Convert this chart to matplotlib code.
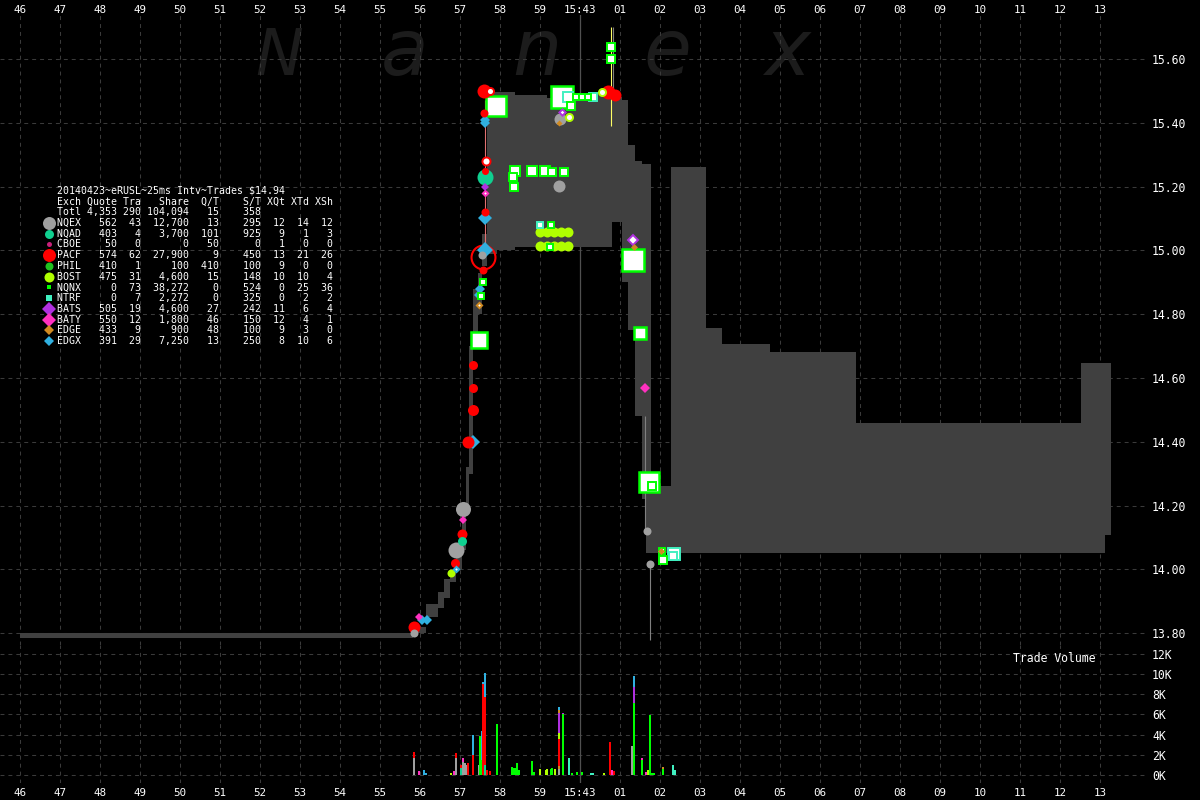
import matplotlib.pyplot as plt

plt.rcParams['font.family'] = ['DejaVu Sans Mono']

# time axis: seconds relative to 15:43:00
sec_ticks = [-14, -13, -12, -11, -10, -9, -8, -7, -6, -5, -4, -3, -2, -1,
             0, 1, 2, 3, 4, 5, 6, 7, 8, 9, 10, 11, 12, 13]
sec_labels = ['46', '47', '48', '49', '50', '51', '52', '53', '54', '55', '56', '57', '58', '59',
              '15:43', '01', '02', '03', '04', '05', '06', '07', '08', '09', '10', '11', '12', '13']
price_ticks = [13.80, 14.00, 14.20, 14.40, 14.60, 14.80, 15.00, 15.20, 15.40, 15.60]
vol_ticks = [0, 2000, 4000, 6000, 8000, 10000, 12000]
vol_labels = ['0K', '2K', '4K', '6K', '8K', '10K', '12K']

# exchanges
exch = ['NQEX', 'NQAD', 'CBOE', 'PACF', 'PHIL', 'BOST', 'NQNX', 'NTRF', 'BATS', 'BATY', 'EDGE', 'EDGX']
exch_color = {'NQEX': '#a0a0a0', 'NQAD': '#10d090', 'CBOE': '#c8207a', 'PACF': '#ff0000',
              'PHIL': '#20c020', 'BOST': '#b0ff00', 'NQNX': '#00ff00', 'NTRF': '#40f0c0',
              'BATS': '#b030e0', 'BATY': '#ff30c0', 'EDGE': '#d08a20', 'EDGX': '#30b0e0'}
exch_shape = {'NQEX': 'o', 'NQAD': 'o', 'CBOE': 'o', 'PACF': 'o', 'PHIL': 'o', 'BOST': 'o',
              'NQNX': 's', 'NTRF': 's', 'BATS': 'D', 'BATY': 'D', 'EDGE': 'D', 'EDGX': 'D'}

# summary table
tbl_quote = ['562', '403', '50', '574', '410', '475', '0', '0', '505', '550', '433', '391']
tbl_tra = ['43', '4', '0', '62', '1', '31', '73', '7', '19', '12', '9', '29']
tbl_share = ['12,700', '3,700', '0', '27,900', '100', '4,600', '38,272', '2,272', '4,600', '1,800', '900', '7,250']
tbl_qt = ['13', '101', '50', '9', '410', '15', '0', '0', '27', '46', '48', '13']
tbl_st = ['295', '925', '0', '450', '100', '148', '524', '325', '242', '150', '100', '250']
tbl_xqt = ['12', '9', '1', '13', '9', '10', '0', '0', '11', '12', '9', '8']
tbl_xtd = ['14', '1', '0', '21', '0', '10', '25', '2', '6', '4', '3', '10']
tbl_xsh = ['12', '3', '0', '26', '0', '4', '36', '2', '4', '1', '0', '6']
tbl_total = ['Totl', '4,353', '290', '104,094', '15', '358', '', '', '']

# NBBO (bid / ask, step post)
nbbo_t = [-14.0, -4.175, -3.85, -3.55, -3.4, -3.25, -3.1, -2.95, -2.85, -2.775, -2.675, -2.55,
          -2.45, -2.325, -2.075, -1.625, -0.825, -0.325, 0.8, 1.05, 1.2, 1.375, 1.55, 1.65,
          1.775, 2.275, 3.15, 3.55, 4.75, 6.9, 12.525, 13.125, 13.275]
nbbo_bid = [13.785, 13.80, 13.85, 13.88, 13.91, 13.96, 14.00, 14.06, 14.20, 14.30, 14.72, 14.80,
            14.95, 14.99, 15.00, 15.01, 15.01, 15.01, 15.09, 14.90, 14.75, 14.48, 14.22, 14.05,
            14.05, 14.05, 14.05, 14.05, 14.05, 14.05, 14.05, 14.108, 14.108]
nbbo_ask = [13.80, 13.82, 13.89, 13.93, 13.97, 14.00, 14.06, 14.20, 14.32, 14.70, 14.88, 14.93,
            15.05, 15.497, 15.497, 15.487, 15.478, 15.49, 15.48, 15.47, 15.33, 15.28, 15.27, 15.27,
            14.26, 15.26, 14.757, 14.707, 14.68, 14.459, 14.647, 14.647, 14.647]

# trades: exchange, time, price, marker px, look
trade_ex = ['NQEX', 'PACF', 'BATY', 'EDGX', 'EDGX', 'BOST', 'EDGX', 'PACF', 'NQEX', 'NQAD',
            'PACF', 'BATY', 'NQEX', 'PACF', 'EDGX', 'PACF', 'PACF', 'PACF', 'NQNX', 'EDGE',
            'NQNX', 'EDGX', 'EDGX', 'NQNX', 'PACF', 'PACF', 'NQEX', 'EDGX', 'EDGX', 'PACF',
            'BATY', 'BATS', 'NQAD', 'PACF', 'PACF', 'EDGX', 'EDGX', 'PACF', 'PACF', 'PACF',
            'NQNX',
            'NQNX', 'NQNX', 'NQNX', 'NQNX', 'NQNX', 'NQNX', 'NQNX', 'NQEX',
            'BOST', 'BOST', 'BOST', 'BOST', 'BOST', 'BOST', 'BOST', 'BOST', 'BOST', 'BOST',
            'NTRF', 'NQNX', 'NQNX', 'NQNX', 'NTRF', 'NQNX', 'NQNX', 'NQNX', 'NTRF', 'NQNX',
            'BATS', 'NQEX', 'EDGE', 'BOST', 'BOST', 'PACF', 'PACF', 'NQNX', 'NQNX',
            'BATS', 'EDGE', 'NQNX', 'NQNX', 'BATY', 'NQNX', 'NQNX', 'NQEX', 'NQEX', 'NQNX',
            'EDGE', 'NQNX', 'NTRF', 'NTRF']
trade_t = [-4.15, -4.15, -4.025, -3.95, -3.825, -3.225, -3.1, -3.125, -3.1, -2.95,
           -2.95, -2.925, -2.925, -2.8, -2.675, -2.675, -2.675, -2.675, -2.525, -2.525,
           -2.475, -2.525, -2.5, -2.425, -2.425, -2.425, -2.45, -2.375, -2.375, -2.375,
           -2.375, -2.375, -2.375, -2.375, -2.35, -2.375, -2.375, -2.4, -2.4, -2.25,
           -2.1,
           -1.675, -1.65, -1.625, -1.2, -0.875, -0.7, -0.4, -0.525,
           -1.0, -0.825, -0.65, -0.475, -0.3, -1.0, -0.825, -0.65, -0.475, -0.3,
           -1.0, -0.725, -0.75, -0.45, -0.3, -0.1, 0.05, 0.2, 0.325, -0.225,
           -0.45, -0.5, -0.525, -0.275, 0.55, 0.7, 0.875, 0.775, 0.775,
           1.325, 1.35, 1.325, 1.5, 1.625, 1.725, 1.8, 1.675, 1.75, 2.05,
           2.03, 2.075, 2.35, 2.325]
trade_px = [13.80, 13.82, 13.85, 13.84, 13.84, 13.99, 14.00, 14.02, 14.06, 14.09,
            14.11, 14.155, 14.19, 14.40, 14.40, 14.50, 14.57, 14.64, 14.72, 14.83,
            14.857, 14.86, 14.88, 14.90, 14.94, 14.98, 14.986, 15.00, 15.10, 15.12,
            15.18, 15.20, 15.23, 15.25, 15.28, 15.40, 15.41, 15.43, 15.50, 15.50,
            15.453,
            15.23, 15.20, 15.25, 15.25, 15.25, 15.246, 15.246, 15.202,
            15.058, 15.058, 15.058, 15.058, 15.058, 15.014, 15.014, 15.014, 15.014, 15.014,
            15.08, 15.08, 15.01, 15.481, 15.48, 15.48, 15.48, 15.48, 15.48, 15.453,
            15.434, 15.412, 15.40, 15.418, 15.497, 15.497, 15.487, 15.638, 15.60,
            15.033, 15.011, 14.970, 14.741, 14.569, 14.274, 14.261, 14.120, 14.017, 14.058,
            14.058, 14.03, 14.048, 14.042]
trade_ms = [8, 12, 8, 10, 10, 8, 8, 9, 16, 9,
            10, 8, 15, 12, 14, 11, 9, 9, 19, 8,
            7, 9, 9, 8, 8, 26, 8, 15, 13, 8,
            8, 8, 16, 7, 10, 9, 9, 8, 14, 9,
            22,
            9, 9, 11, 11, 11, 9, 9, 12,
            10, 10, 10, 10, 10, 10, 10, 10, 10, 10,
            8, 8, 8, 24, 12, 8, 8, 8, 9, 9,
            9, 12, 6, 9, 9, 14, 12, 9, 9,
            12, 7, 25, 15, 9, 23, 9, 8, 8, 8,
            7, 10, 14, 9]
trade_look = ['fill', 'fill', 'fill', 'fill', 'fill', 'fill', 'ring', 'fill', 'fill', 'fill',
              'fill', 'fill', 'fill', 'fill', 'fill', 'fill', 'fill', 'fill', 'ring', 'ring',
              'ring', 'fill', 'fill', 'ring', 'fill', 'open', 'fill', 'fill', 'fill', 'fill',
              'ring', 'fill', 'fill', 'fill', 'ring', 'fill', 'fill', 'fill', 'fill', 'ring',
              'ring',
              'ring', 'ring', 'ring', 'ring', 'ring', 'ring', 'ring', 'fill',
              'fill', 'fill', 'fill', 'fill', 'fill', 'fill', 'fill', 'fill', 'fill', 'fill',
              'ring', 'ring', 'ring', 'ring', 'ring', 'ring', 'ring', 'ring', 'ring', 'ring',
              'ring', 'fill', 'fill', 'ring', 'ring', 'fill', 'fill', 'ring', 'ring',
              'ring', 'fill', 'ring', 'ring', 'fill', 'ring', 'ring', 'fill', 'fill', 'ring',
              'fill', 'ring', 'ring', 'ring']

# thin trade-path lines
path_t = [-2.375, 1.75, 1.625, 0.775, 0.825]
path_lo = [15.01, 13.78, 14.12, 15.39, 15.48]
path_hi = [15.47, 14.02, 14.48, 15.70, 15.70]
path_c = ['#e07070', '#808080', '#808080', '#ffff66', '#808080']

# trade volume, stacked by time
vol_t = [-4.15, -4.15, -4.025, -3.9, -3.85, -3.225, -3.15, -3.1, -3.1, -2.975, -2.975,
         -2.925, -2.925, -2.9, -2.875, -2.85, -2.8, -2.675, -2.675, -2.525, -2.5, -2.45, -2.45,
         -2.425, -2.425, -2.375, -2.375, -2.375, -2.325, -2.25, -2.075,
         -1.69, -1.65, -1.625, -1.6, -1.57, -1.525, -1.2, -1.15, -1.0, -0.85, -0.825,
         -0.725, -0.7, -0.625,
         -0.525, -0.525, -0.525, -0.525, -0.525, -0.525, -0.525, -0.425, -0.425, -0.275,
         -0.2, -0.075, 0.05, 0.275, 0.325, 0.6, 0.75, 0.8, 0.85, 1.3, 1.35, 1.35, 1.35,
         1.55, 1.55, 1.65, 1.7, 1.75, 1.8, 1.85, 2.075, 2.075, 2.325, 2.375]
vol_ex = ['NQEX', 'PACF', 'BATY', 'EDGX', 'EDGX', 'BOST', 'BATY', 'NQEX', 'PACF', 'NQAD', 'PACF',
          'NQEX', 'BATY', 'NQEX', 'NQEX', 'NQEX', 'PACF', 'PACF', 'EDGX', 'NQEX', 'NQNX', 'NQNX', 'EDGX',
          'PACF', 'EDGX', 'NQAD', 'PACF', 'EDGX', 'PACF', 'PACF', 'NQNX',
          'NQNX', 'NQNX', 'NQNX', 'NQNX', 'NQNX', 'NQNX', 'NQNX', 'NQNX', 'BOST', 'BOST', 'BOST',
          'NQNX', 'NQNX', 'BOST',
          'NQEX', 'EDGE', 'PACF', 'BOST', 'BATS', 'EDGE', 'EDGX', 'NQNX', 'BATS', 'NTRF',
          'NQNX', 'NQNX', 'NQNX', 'NTRF', 'NTRF', 'BOST', 'PACF', 'BATY', 'PACF', 'NQEX', 'NQNX', 'BATS', 'EDGX',
          'NQNX', 'BATY', 'BATY', 'BOST', 'NQNX', 'NQNX', 'NQNX', 'NQNX', 'EDGE', 'NTRF', 'NTRF']
vol_sh = [1700, 600, 400, 500, 200, 200, 400, 1700, 500, 700, 300,
          1300, 400, 1000, 1200, 1000, 1200, 2000, 2000, 1000, 3900, 1500, 2900,
          9000, 200, 1000, 6700, 2400, 500, 400, 5000,
          800, 700, 500, 700, 1200, 500, 1400, 300, 600, 500, 600,
          600, 700, 600,
          600, 300, 2700, 600, 1900, 300, 300, 6000, 100, 1700,
          200, 300, 300, 200, 200, 200, 3300, 500, 400, 2900, 7100, 1600, 1100,
          1500, 200, 300, 500, 5900, 200, 200, 600, 200, 1000, 500]

W, H = 1200.0, 800.0
TOP = 15.0   # pixel row where the price pane starts
fig = plt.figure(figsize=(12, 8), dpi=100, facecolor='black')
ax = fig.add_axes([0, 1 - 645 / H, 1147 / W, (645 - TOP) / H], facecolor='black')
axv = fig.add_axes([0, 1 - 783 / H, 1147 / W, (783 - 645) / H], facecolor='black', sharex=ax)

grid_kw = dict(color='#3a3a3a', linestyle=(0, (3.8, 3.8)), linewidth=0.75)
for a in (ax, axv):
    for s in a.spines.values():
        s.set_visible(False)
    a.set_axisbelow(True)
    a.grid(True, **grid_kw)
    a.axvline(0, color='#505050', lw=0.9, zorder=0.6)
    a.yaxis.tick_right()

ax.set_xlim(-14.5, 14.175)
ax.set_ylim(13.763, 15.60 + (59 - TOP) / 319.1)
axv.set_ylim(-792, 12871)

ax.set_xticks(sec_ticks)
ax.set_xticklabels(sec_labels)
ax.tick_params(axis='x', length=0, pad=0.3, labelsize=7.8, colors='white',
               labeltop=True, labelbottom=False, top=False, bottom=False)
axv.tick_params(axis='x', length=0, pad=3.4, labelsize=7.8, colors='white',
                labeltop=False, labelbottom=True, top=False, bottom=False)
ax.set_yticks(price_ticks)
ax.set_yticklabels(['%.2f' % p for p in price_ticks])
axv.set_yticks(vol_ticks)
axv.set_yticklabels(vol_labels)
for a in (ax, axv):
    a.tick_params(axis='y', length=0, pad=3.6, labelsize=8.3, colors='white',
                  labelleft=False, labelright=True, left=False, right=False)

# watermark
for ch, xf, fs in [('N', 279 / 1147, 46), ('a', 405 / 1147, 56), ('n', 537 / 1147, 56),
                   ('e', 667 / 1147, 56), ('x', 787 / 1147, 56)]:
    ax.text(xf, (645 - 75) / (645 - TOP), ch, transform=ax.transAxes, ha='center', va='baseline',
            fontsize=fs, style='italic', family='DejaVu Sans', color='#1c1c1c', zorder=0.2)

# NBBO spread
ax.fill_between(nbbo_t, nbbo_bid, nbbo_ask, step='post', color='#404040', lw=0, zorder=1)

# trade path lines
ax.vlines(path_t, path_lo, path_hi, colors=path_c, lw=0.8, zorder=1.5)

# trades, biggest first
order = sorted(range(len(trade_t)), key=lambda i: -trade_ms[i])
for i in order:
    c = exch_color[trade_ex[i]]
    shp = exch_shape[trade_ex[i]]
    ms = trade_ms[i] * 0.72
    if shp == 'D':
        ms = ms / 1.41
    if trade_look[i] == 'fill':
        ax.plot(trade_t[i], trade_px[i], marker=shp, ms=ms, mfc=c, mec=c, mew=0, zorder=3)
    elif trade_look[i] == 'ring':
        ew = 1.8 if trade_ms[i] > 14 else 1.4
        ax.plot(trade_t[i], trade_px[i], marker=shp, ms=ms - ew, mfc='white', mec=c, mew=ew, zorder=3)
    else:
        ax.plot(trade_t[i], trade_px[i], marker=shp, ms=ms - 1.5, mfc='none', mec=c, mew=1.5, zorder=3)

# volume bars
bottoms = {}
for t, ex, sh in zip(vol_t, vol_ex, vol_sh):
    b = bottoms.get(t, 0)
    axv.bar(t, sh, bottom=b, width=0.045, color=exch_color[ex], lw=0, zorder=2)
    bottoms[t] = b + sh

# overlay for table and captions (pixel coordinates)
lay = fig.add_axes([0, 0, 1, 1])
lay.set_xlim(0, W)
lay.set_ylim(H, 0)
lay.axis('off')

txt_kw = dict(color='white', fontsize=7.1, va='center', ha='left', family='DejaVu Sans Mono')
lay.text(57, 190.5, '20140423~eRUSL~25ms Intv~Trades $14.94', **txt_kw)
fmt = '{:<4}{:>6}{:>4}{:>8}{:>5}{:>7}{:>4}{:>4}{:>4}'
lay.text(57, 201.3, fmt.format('Exch', 'Quote', 'Tra', 'Share', 'Q/T', 'S/T', 'XQt', 'XTd', 'XSh'), **txt_kw)
lay.text(57, 212.0, fmt.format(*tbl_total), **txt_kw)

leg_ms = {'NQEX': 13, 'NQAD': 9, 'CBOE': 5, 'PACF': 13, 'PHIL': 8, 'BOST': 10,
          'NQNX': 5, 'NTRF': 6, 'BATS': 13, 'BATY': 13, 'EDGE': 10, 'EDGX': 10}
for k, ex in enumerate(exch):
    y = 222.8 + 10.75 * k
    row = fmt.format(ex, tbl_quote[k], tbl_tra[k], tbl_share[k], tbl_qt[k], tbl_st[k],
                     tbl_xqt[k], tbl_xtd[k], tbl_xsh[k])
    lay.text(57, y, row, **txt_kw)
    ms = leg_ms[ex] * 0.72
    if exch_shape[ex] == 'D':
        ms = ms / 1.41
    lay.plot(48.5, y, marker=exch_shape[ex], ms=ms, mfc=exch_color[ex], mec=exch_color[ex], mew=0)

lay.text(1013, 659, 'Trade Volume', color='white', fontsize=8.3, va='center', ha='left',
         family='DejaVu Sans Mono')

fig.savefig('out.png', dpi=100, facecolor='black')
